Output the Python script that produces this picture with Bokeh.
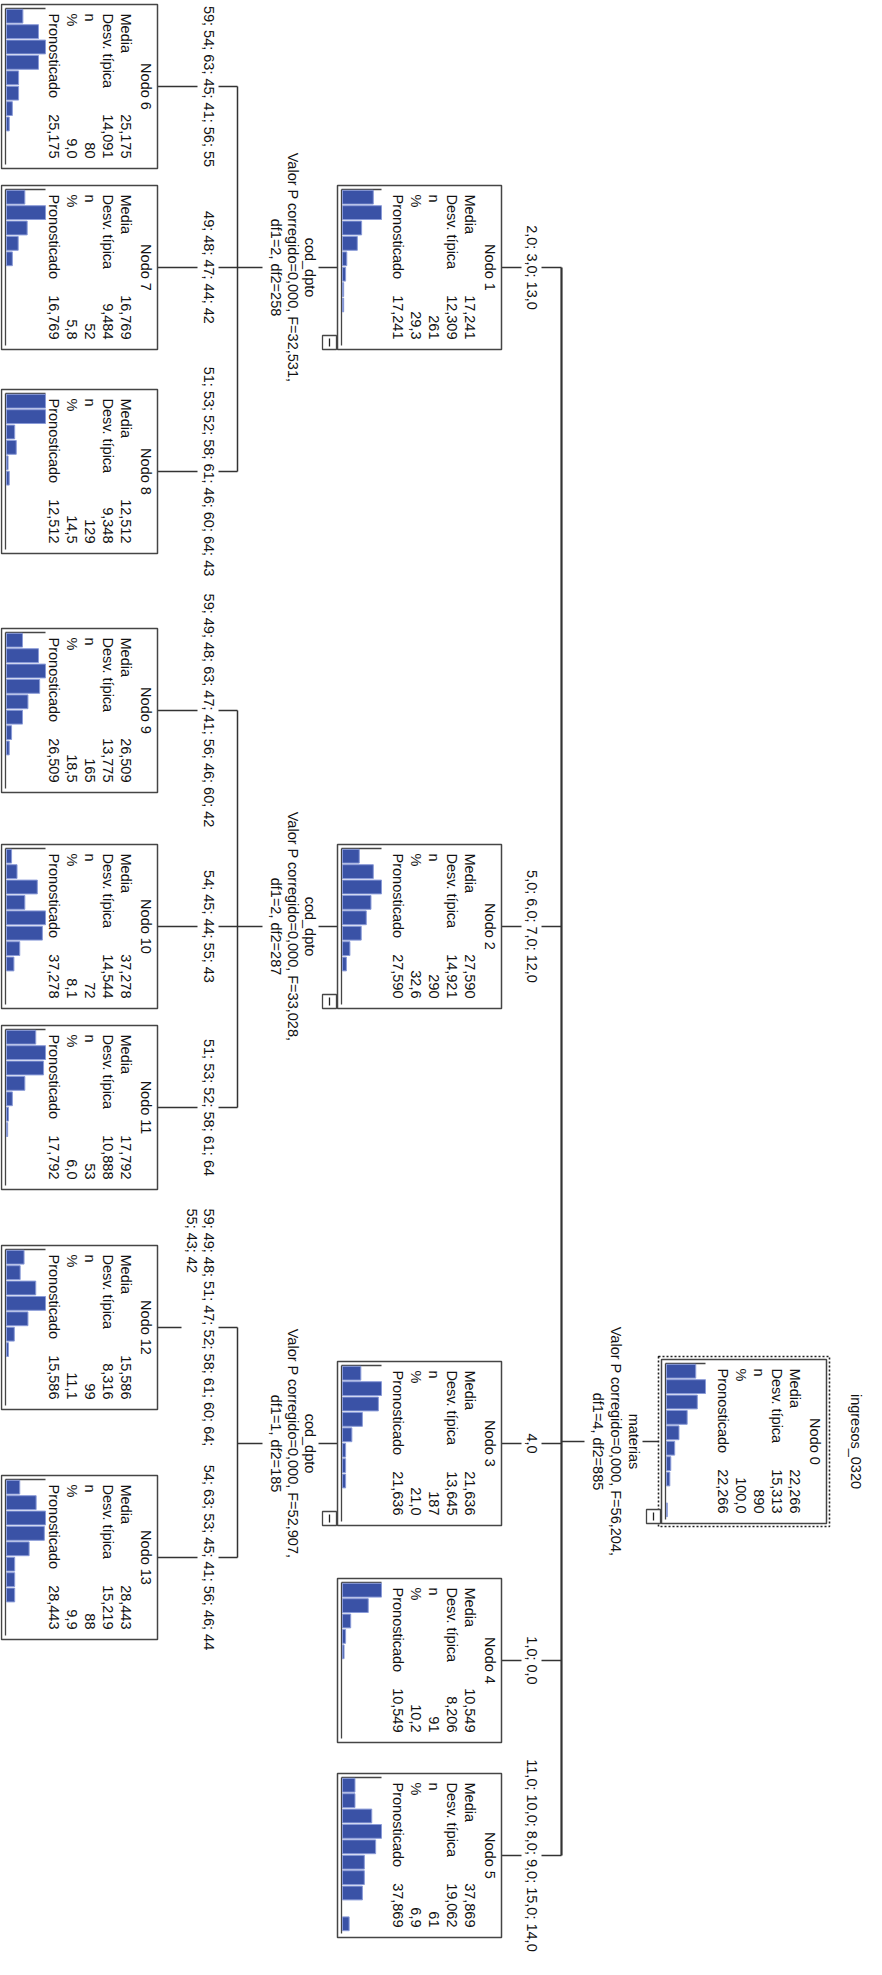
import math
from bokeh.plotting import figure
from bokeh.models import Range1d
from bokeh.core.properties import value
from bokeh.embed import file_html
from bokeh.resources import INLINE

# ---------------- data ----------------
node_ids = [0, 1, 2, 3, 4, 5, 6, 7, 8, 9, 10, 11, 12, 13]
node_media = [22.266, 17.241, 27.590, 21.636, 10.549, 37.869, 25.175,
              16.769, 12.512, 26.509, 37.278, 17.792, 15.586, 28.443]
node_sd = [15.313, 12.309, 14.921, 13.645, 8.206, 19.062, 14.091,
           9.484, 9.348, 13.775, 14.544, 10.888, 8.316, 15.219]
node_n = [890, 261, 290, 187, 91, 61, 80, 52, 129, 165, 72, 53, 99, 88]
node_pct = [100.0, 29.3, 32.6, 21.0, 10.2, 6.9, 9.0, 5.8, 14.5, 18.5,
            8.1, 6.0, 11.1, 9.9]
node_pred = node_media

# relative histogram bar lengths per node (share of the node's largest bin, %)
hist_0 = [75, 100, 79, 53, 32, 21, 11, 8.5, 0, 2]
hist_1 = [79, 100, 49, 38, 11, 8, 3, 3, 0, 0]
hist_2 = [43, 79, 100, 73, 61, 48, 19, 10, 0, 0]
hist_3 = [47, 100, 92, 51, 24, 8, 8, 8, 0, 0]
hist_4 = [100, 66, 21, 8, 4, 0, 0, 0, 0, 0]
hist_5 = [32, 32, 75, 100, 85, 56, 56, 51, 0, 17]
hist_6 = [42, 82, 100, 82, 31, 31, 15, 7, 0, 0]
hist_7 = [47, 100, 53, 30, 15, 0, 0, 0, 0, 0]
hist_8 = [100, 100, 21, 25, 4, 7, 0, 0, 0, 0]
hist_9 = [41, 82, 100, 85, 55, 41, 13, 7, 0, 0]
hist_10 = [13, 27, 79, 47, 100, 92, 34, 19, 0, 0]
hist_11 = [75, 100, 95, 47, 15, 5, 3, 0, 0, 0]
hist_12 = [45, 35, 75, 100, 55, 20, 5, 0, 0, 0]
hist_13 = [34, 76, 100, 97, 58, 21, 21, 21, 0, 0]
node_hist = [hist_0, hist_1, hist_2, hist_3, hist_4, hist_5, hist_6,
             hist_7, hist_8, hist_9, hist_10, hist_11, hist_12, hist_13]

row_labels = ["Media", "Desv. típica", "n", "%", "Pronosticado"]

dependent_var = "ingresos_0320"

split_node = [0, 1, 2, 3]
split_var = ["materias", "cod_dpto", "cod_dpto", "cod_dpto"]
split_stat = ["Valor P corregido=0,000, F=56,204,",
              "Valor P corregido=0,000, F=32,531,",
              "Valor P corregido=0,000, F=33,028,",
              "Valor P corregido=0,000, F=52,907,"]
split_df = ["df1=4, df2=885", "df1=2, df2=258", "df1=2, df2=287",
            "df1=1, df2=185"]

children = {0: [1, 2, 3, 4, 5], 1: [6, 7, 8], 2: [9, 10, 11], 3: [12, 13]}
edge_labels = {
    1: ["2,0; 3,0; 13,0"],
    2: ["5,0; 6,0; 7,0; 12,0"],
    3: ["4,0"],
    4: ["1,0; 0,0"],
    5: ["11,0; 10,0; 8,0; 9,0; 15,0; 14,0"],
    6: ["59; 54; 63; 45; 41; 56; 55"],
    7: ["49; 48; 47; 44; 42"],
    8: ["51; 53; 52; 58; 61; 46; 60; 64; 43"],
    9: ["59; 49; 48; 63; 47; 41; 56; 46; 60; 42"],
    10: ["54; 45; 44; 55; 43"],
    11: ["51; 53; 52; 58; 61; 64"],
    12: ["59; 49; 48; 51; 47; 52; 58; 61; 60; 64;", "55; 43; 42"],
    13: ["54; 63; 53; 45; 41; 56; 46; 44"],
}

# ---------------- layout (page pixels) ----------------
W, H = 866, 1959
PAGE_H = 1975


def Y(py):
    return PAGE_H - py


level_box_x = {0: (669, 834), 1: (345, 509), 2: (9, 165)}
node_level = {0: 0, 1: 1, 2: 1, 3: 1, 4: 1, 5: 1}
for k in range(6, 14):
    node_level[k] = 2
node_top = {0: 1367, 1: 193, 2: 852, 3: 1369, 4: 1586, 5: 1781,
            6: 12, 7: 193, 8: 397, 9: 636, 10: 852, 11: 1033, 12: 1253, 13: 1483}
BOX_H = 164

FONT = value("Liberation Sans")
FS = "14.5px"
TXT = "#111111"
LINE = "#333333"
BORDER = "#454545"
BAR_FILL = "#3a52a6"
BAR_LINE = "#8a9bd8"
ANG = -math.pi / 2

p = figure(width=W, height=H, output_backend="svg", toolbar_location=None,
           x_range=Range1d(8, 8 + W), y_range=Range1d(PAGE_H - 8 - H, PAGE_H - 8),
           min_border=0, background_fill_color="white", border_fill_color="white")
p.axis.visible = False
p.grid.visible = False
p.outline_line_color = None


def fmt3(v):
    return f"{v:.3f}".replace(".", ",")


def fmt1(v):
    return f"{v:.1f}".replace(".", ",")


def txt(xs, ys, texts, align="center"):
    p.text(x=xs, y=ys, text=texts, angle=ANG, text_font=FONT,
           text_font_size=FS, text_align=align, text_baseline="middle",
           text_color=TXT)


def box_geom(nid):
    L, R = level_box_x[node_level[nid]]
    T = node_top[nid]
    B = T + BOX_H
    return L, R, T, B, (T + B) / 2


# ---------- connectors ----------
seg_x, seg_y = [], []


def seg(x0, y0, x1, y1):
    seg_x.append([x0, x1])
    seg_y.append([Y(y0), Y(y1)])


main_vx = 569
mid_vx = 245
# root to main vertical
L0, R0, T0, B0, C0 = box_geom(0)
seg(L0 - 3, C0, 650, C0)
seg(592, C0, main_vx, C0)
lvl1 = children[0]
p.line(x=[main_vx, main_vx],
       y=[Y(box_geom(lvl1[0])[4]), Y(box_geom(lvl1[-1])[4])],
       line_color=LINE, line_width=2.2)
for c in lvl1:
    L, R, T, B, C = box_geom(c)
    seg(R, C, 529, C)
    seg(549, C, main_vx, C)

for par in [1, 2, 3]:
    L, R, T, B, C = box_geom(par)
    seg(L, C, 326, C)
    seg(270, C, mid_vx, C)
    kids = children[par]
    seg(mid_vx, box_geom(kids[0])[4], mid_vx, box_geom(kids[-1])[4])
    for c in kids:
        Lc, Rc, Tc, Bc, Cc = box_geom(c)
        nlines = len(edge_labels[c])
        seg(Rc, Cc, 205 if nlines == 1 else 189, Cc)
        seg(226, Cc, mid_vx, Cc)

p.multi_line(xs=seg_x, ys=seg_y, line_color=LINE, line_width=1.5)

# ---------- edge labels ----------
for c, lines in edge_labels.items():
    L, R, T, B, C = box_geom(c)
    if node_level[c] == 1:
        txt([539], [Y(C)], lines)
    else:
        if len(lines) == 1:
            txt([216], [Y(C)], lines)
        else:
            w0 = 238
            start = C - w0 / 2
            for i, ln in enumerate(lines):
                txt([216 - 17 * i], [Y(start)], [ln], align="left")

# ---------- split statistics ----------
for i, nid in enumerate(split_node):
    L, R, T, B, C = box_geom(nid)
    if nid == 0:
        xs = [641, 623, 605]
    else:
        xs = [317, 300, 283]
    txt(xs, [Y(C)] * 3, [split_var[i], split_stat[i], split_df[i]])

# root title
txt([863], [Y(C0)], [dependent_var])

# ---------- nodes ----------
for nid in node_ids:
    L, R, T, B, C = box_geom(nid)
    if nid == 0:
        p.quad(left=L - 3, right=R + 3, top=Y(T - 3), bottom=Y(B + 3),
               fill_color="white", line_color="#222222", line_width=1.6,
               line_dash="2 2")
    p.quad(left=L, right=R, top=Y(T), bottom=Y(B), fill_color="white",
           line_color=BORDER, line_width=1.5)
    # title
    txt([R - 12], [Y(C)], [f"Nodo {nid}"])
    row_x = [R - 32, R - 50, R - 68, R - 86, R - 104]
    txt(row_x, [Y(T + 9)] * 5, row_labels, align="left")
    vals = [fmt3(node_media[nid]), fmt3(node_sd[nid]), str(node_n[nid]),
            fmt1(node_pct[nid]), fmt3(node_pred[nid])]
    txt(row_x, [Y(B - 10)] * 5, vals, align="right")
    # histogram
    ax = L + 4
    htop = T + 4
    hbot = B - 4
    p.line(x=[ax, ax], y=[Y(htop), Y(hbot)], line_color=BORDER, line_width=1.3)
    p.line(x=[ax, ax + 40], y=[Y(htop), Y(htop)], line_color=BORDER, line_width=1.3)
    hv = node_hist[nid]
    binh = 15.4
    lefts, rights, tops, bots = [], [], [], []
    for i, v in enumerate(hv):
        if v <= 0:
            continue
        lefts.append(ax + 1)
        rights.append(ax + 1 + v / 100 * 39)
        tops.append(Y(htop + i * binh + 0.8))
        bots.append(Y(htop + (i + 1) * binh - 0.8))
    p.quad(left=lefts, right=rights, top=tops, bottom=bots,
           fill_color=BAR_FILL, line_color=BAR_LINE, line_width=1)
    # collapse control
    if nid in children:
        p.quad(left=[L - 15], right=[L - 1], top=[Y(B - 14)], bottom=[Y(B)],
               fill_color="white", line_color=BORDER, line_width=1.3)
        p.line(x=[L - 8, L - 8], y=[Y(B - 11), Y(B - 3)], line_color="#222222",
               line_width=1.3)

open("out.html", "w").write(file_html(p, INLINE))
